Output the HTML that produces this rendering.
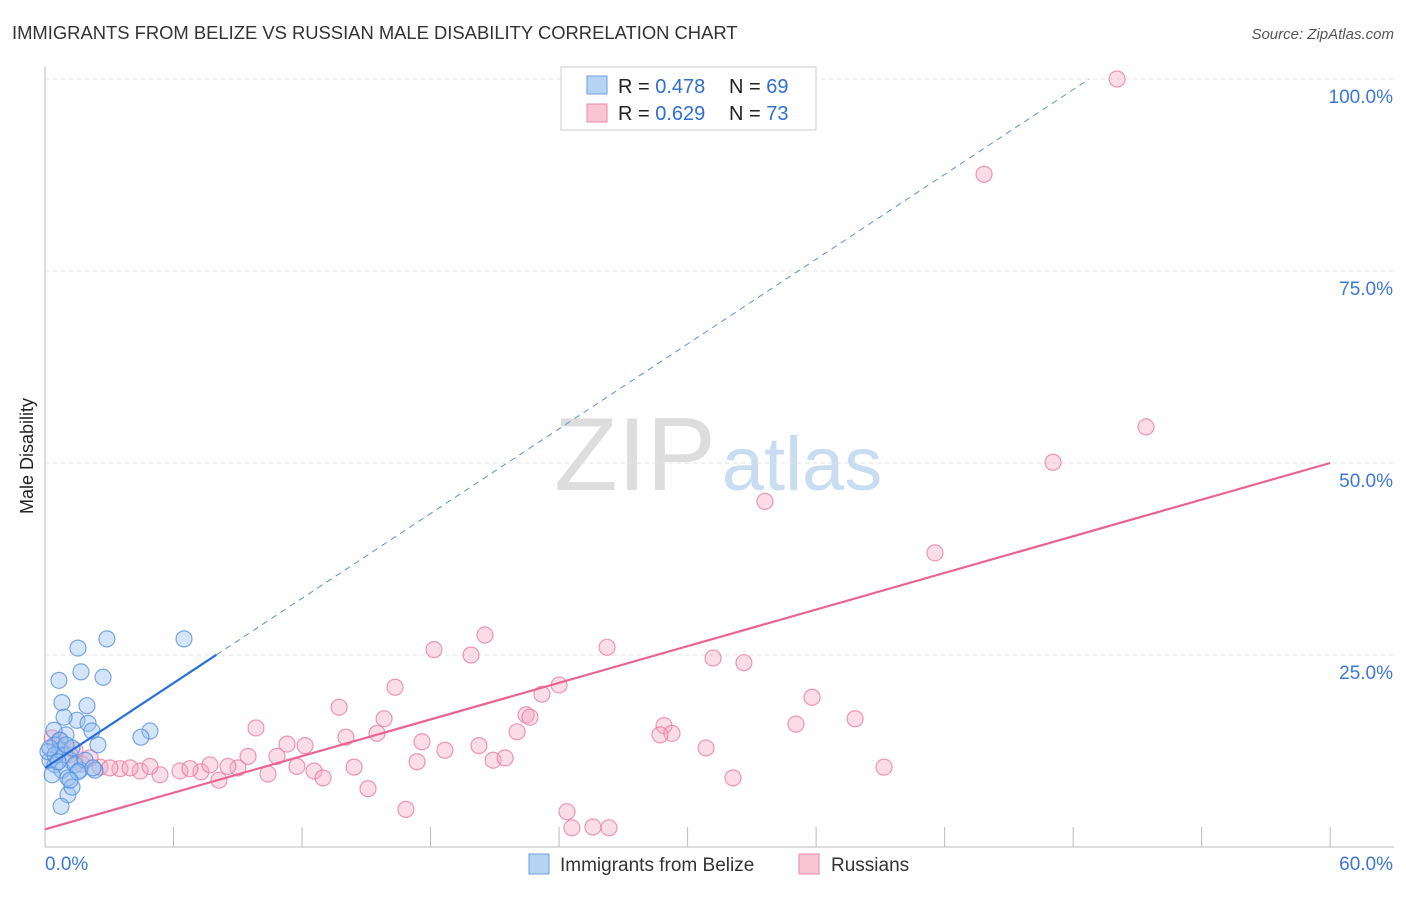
<!DOCTYPE html>
<html><head><meta charset="utf-8"><style>
body{margin:0;background:#fff;font-family:"Liberation Sans",sans-serif}
svg text{font-family:"Liberation Sans",sans-serif}
</style></head><body>
<svg id="c" width="1406" height="892">
<text x="12" y="39" font-size="18.4" fill="#333">IMMIGRANTS FROM BELIZE VS RUSSIAN MALE DISABILITY CORRELATION CHART</text>
<text x="1394" y="39" font-size="15" fill="#555" text-anchor="end" font-style="italic">Source: ZipAtlas.com</text>
<text x="33" y="456" font-size="18" fill="#222" text-anchor="middle" transform="rotate(-90 33 456)">Male Disability</text>
<g><text x="635" y="490" font-size="104" fill="#ddd" text-anchor="middle" font-family="Liberation Serif">ZIP</text><text x="802" y="490" font-size="76" fill="#c8dcf2" text-anchor="middle">atlas</text></g>
<g id="grid"></g><g id="marks"></g>
<g>
<rect x="561" y="67" width="255" height="63" fill="#fff" stroke="#ccc"/>
<rect x="587" y="76" width="20" height="18" fill="#b7d3f3" stroke="#6d9fe0"/>
<rect x="587" y="104" width="20" height="18" fill="#f9c5d5" stroke="#e88aa6"/>
<text x="618" y="93" font-size="20" fill="#222">R = <tspan fill="#2f6fd0">0.478</tspan></text>
<text x="729" y="93" font-size="20" fill="#222">N = <tspan fill="#2f6fd0">69</tspan></text>
<text x="618" y="120" font-size="20" fill="#222">R = <tspan fill="#2f6fd0">0.629</tspan></text>
<text x="729" y="120" font-size="20" fill="#222">N = <tspan fill="#2f6fd0">73</tspan></text>
</g>
<g>
<rect x="529" y="854" width="20" height="20" fill="#b7d3f3" stroke="#6d9fe0"/>
<text x="560" y="871" font-size="19" fill="#333">Immigrants from Belize</text>
<rect x="799" y="854" width="20" height="20" fill="#f9c5d5" stroke="#e88aa6"/>
<text x="831" y="871" font-size="19" fill="#333">Russians</text>
</g>
</svg>
<script>
const yTicks=[25,50,75,100];
const yTickLabels=["25.0%","50.0%","75.0%","100.0%"];
const xTicks=[0,6,12,18,24,30,36,42,48,54,60];
const xLabels=["0.0%","60.0%"];
const belizeX=[1.54,2.89,6.49,1.68,2.71,0.65,0.79,1.96,1.49,0.89,2.01,2.19,0.98,4.90,4.48,2.47,0.42,0.47,0.70,0.93,1.17,0.23,0.47,0.79,1.40,1.63,1.87,2.33,0.33,1.07,1.54,2.24,0.70,1.26,0.14,1.07,1.26,0.75,1.17,0.47,0.98,0.61,0.23];
const belizeY=[25.9,27.1,27.1,22.8,22.1,21.7,18.8,18.4,16.5,16.9,16.1,15.1,14.6,15.1,14.3,13.3,15.2,13.3,12.6,12.0,11.3,11.3,10.7,10.0,10.7,10.0,11.3,10.0,9.4,9.0,9.8,10.3,13.9,12.9,12.4,6.8,7.8,5.3,8.7,12.0,13.3,11.1,12.9];
const rusX=[50.05,43.84,51.4,47.06,33.61,41.55,20.54,18.16,26.24,19.89,31.19,32.63,16.34,24.0,23.2,35.81,13.73,15.83,22.46,22.64,28.9,37.82,35.06,9.85,29.27,28.71,14.05,15.5,11.3,12.14,17.6,18.67,22.04,20.26,30.86,9.48,10.83,20.92,21.48,17.37,11.76,14.43,39.17,9.01,12.56,10.41,12.98,32.12,8.12,7.28,6.3,5.37,4.44,3.5,2.57,1.73,3.97,3.03,6.77,7.7,8.54,15.08,16.85,24.37,24.6,25.58,26.33,4.9,2.1,1.4,0.7,0.33,1.17];
const rusY=[100,87.6,54.7,50.1,45.0,38.3,27.6,25.7,26.0,25.0,24.6,24.0,20.8,21.1,19.9,19.5,18.2,16.7,17.2,16.9,15.8,16.7,16.0,15.5,14.8,14.6,14.3,14.8,13.4,13.2,13.7,12.6,15.0,13.2,12.9,11.8,11.8,11.3,11.6,11.1,10.5,10.4,10.4,10.3,9.9,9.5,9.0,9.0,8.7,9.8,9.9,9.4,9.9,10.2,10.4,10.8,10.3,10.3,10.2,10.7,10.5,7.6,4.9,4.6,2.5,2.6,2.5,10.5,11.6,12.6,13.9,14.2,12.0];
const belizeFit=[10.3,1.84];
const rusFit=[2.3,0.795];
const NS='http://www.w3.org/2000/svg';
const sx=v=>45+v*21.42, sy=v=>847-v*7.68;
function mk(t,a,p){const e=document.createElementNS(NS,t);for(const k in a)e.setAttribute(k,a[k]);p.appendChild(e);return e;}
const g=document.getElementById('grid'), m=document.getElementById('marks');
yTicks.forEach((t,i)=>{
 const l=mk('line',{x1:45,x2:1394,y1:sy(t),y2:sy(t),stroke:'#e2e2e2','stroke-dasharray':'4,4'},g);
 
 
 const tx=mk('text',{x:1393,y:sy(t)+24,'font-size':19,fill:'#3b78d8','text-anchor':'end'},g);tx.textContent=yTickLabels[i];
 
 
});
const ax=mk('line',{x1:45,x2:45,y1:67,y2:847,stroke:'#bbb'},g);


const bx=mk('line',{x1:45,x2:1394,y1:847,y2:847,stroke:'#bbb'},g);


xTicks.forEach(t=>{const l=mk('line',{x1:sx(t),x2:sx(t),y1:827,y2:847,stroke:'#bbb'},g);
 
 });
[[0,'start',45],[60,'end',1393]].forEach((d,i)=>{const tx=mk('text',{x:d[2],y:870,'font-size':19,fill:'#3b78d8','text-anchor':d[1]},g);tx.textContent=xLabels[i];
 
 });
rusX.forEach((x,i)=>{const c=mk('circle',{cx:sx(x),cy:sy(rusY[i]),r:8,fill:'rgba(246,170,195,0.4)',stroke:'rgba(232,120,155,0.75)','stroke-width':1.2},m);
 
 });
belizeX.forEach((x,i)=>{const c=mk('circle',{cx:sx(x),cy:sy(belizeY[i]),r:8,fill:'rgba(150,190,240,0.4)',stroke:'rgba(80,140,220,0.75)','stroke-width':1.2},m);
 
 });
const bEnd=(100-belizeFit[0])/belizeFit[1];
const bd=mk('line',{x1:sx(8),y1:sy(belizeFit[0]+8*belizeFit[1]),x2:sx(bEnd),y2:sy(100),stroke:'#5a90d8','stroke-width':1,'stroke-dasharray':'6,5'},m);


const bl=mk('line',{x1:sx(0),y1:sy(belizeFit[0]),x2:sx(8),y2:sy(belizeFit[0]+8*belizeFit[1]),stroke:'#2a6fd6','stroke-width':2.2},m);


const rl=mk('line',{x1:sx(0),y1:sy(rusFit[0]),x2:sx(60),y2:sy(rusFit[0]+60*rusFit[1]),stroke:'#e8658f','stroke-width':2.2},m);


</script>
</body></html>
